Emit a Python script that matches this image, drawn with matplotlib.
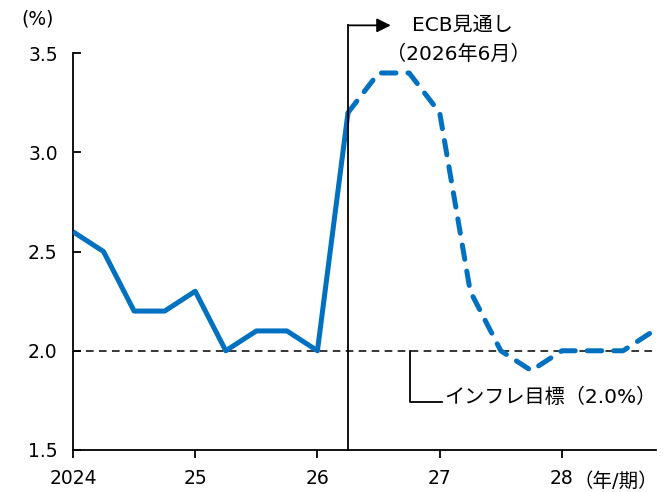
import matplotlib.pyplot as plt
import numpy as np

plt.rcParams["font.family"] = ["DejaVu Sans", "Noto Sans CJK JP"]

# quarterly values, 2024Q1 .. 2028Q4 (x in years)
actual_x = [2024.0, 2024.25, 2024.5, 2024.75, 2025.0, 2025.25, 2025.5, 2025.75, 2026.0, 2026.25]
actual_y = [2.6, 2.5, 2.2, 2.2, 2.3, 2.0, 2.1, 2.1, 2.0, 3.2]
proj_x = [2026.25, 2026.5, 2026.75, 2027.0, 2027.25, 2027.5, 2027.75, 2028.0, 2028.25, 2028.5, 2028.75]
proj_y = [3.2, 3.4, 3.4, 3.2, 2.3, 2.0, 1.9, 2.0, 2.0, 2.0, 2.1]

x_ticks = [2024, 2025, 2026, 2027, 2028]
x_labels = ["2024", "25", "26", "27", "28"]
y_ticks = [1.5, 2.0, 2.5, 3.0, 3.5]
target = 2.0

blue = "#0070C0"
fs = 13.5
fs_note = 14.5

fig = plt.figure(figsize=(6.66, 4.92), dpi=100)
ax = fig.add_axes([0.1096, 0.0854, 0.8754, 0.8066])

ax.axhline(target, color="black", lw=1.1, ls=(0, (5, 3.5)), zorder=1)
ax.plot(actual_x, actual_y, color=blue, lw=3.6, solid_capstyle="butt", zorder=3)
ax.plot(proj_x, proj_y, color=blue, lw=3.6, ls=(0, (2.9, 2.4)),
        dash_capstyle="round", zorder=3)

# ECB projection marker
top = 3.64
ax.plot([2026.25, 2026.25], [1.5, top], color="black", lw=1.3, clip_on=False, zorder=4)
ax.annotate("", xy=(2026.6, top), xytext=(2026.25, top),
            arrowprops=dict(arrowstyle="-|>", color="black", lw=1.3,
                            mutation_scale=21, shrinkA=0, shrinkB=0),
            annotation_clip=False)
ax.text(2027.19, top, "ECB見通し", ha="center", va="center", fontsize=fs_note)
ax.text(2027.15, 3.495, "（2026年6月）", ha="center", va="center", fontsize=fs_note)

# inflation target label
ax.plot([2026.76, 2026.76, 2027.02], [target, 1.742, 1.742], color="black", lw=1.3, zorder=4)
ax.text(2027.04, 1.765, "インフレ目標（2.0%）", ha="left", va="center", fontsize=fs_note)

ax.set_xlim(2024, 2028.77)
ax.set_ylim(1.5, 3.5)
ax.set_xticks(x_ticks)
ax.set_xticklabels(x_labels)
ax.set_yticks(y_ticks)
ax.set_yticklabels([f"{v:.1f}" for v in y_ticks])
ax.tick_params(axis="y", direction="in", length=6, width=1.3, labelsize=fs, pad=11)
ax.tick_params(axis="x", direction="out", length=6, width=1.3, labelsize=fs, pad=8)
for side in ["top", "right"]:
    ax.spines[side].set_visible(False)
for side in ["left", "bottom"]:
    ax.spines[side].set_linewidth(1.3)

fig.text(0.056, 0.962, "(%)", ha="center", va="center", fontsize=fs)
fig.text(0.988, 0.021, "（年/期）", ha="right", va="center", fontsize=14)

fig.savefig("out.png", dpi=100)
